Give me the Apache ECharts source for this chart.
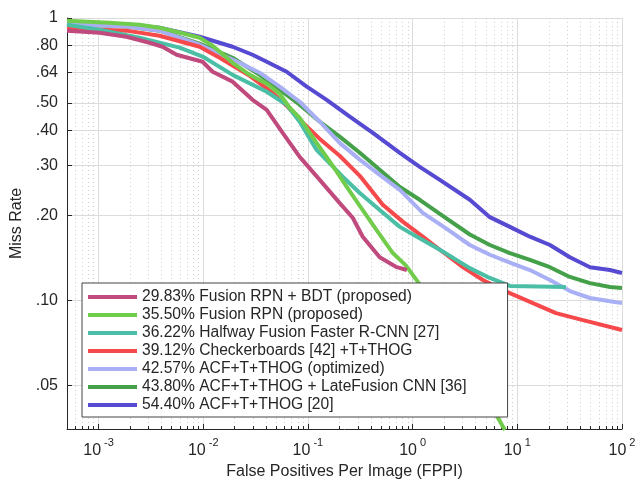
<!DOCTYPE html>
<html>
<head>
<meta charset="utf-8">
<script src="https://cdn.jsdelivr.net/npm/echarts@6/dist/echarts.min.js"></script>
<style>
  html, body { margin: 0; padding: 0; background: #fff; }
  #content { width: 636px; height: 479px; }
</style>
</head>
<body>
<div id="content"></div>
<script>
// legend names, same order as the legend
var names = [
    "29.83% Fusion RPN + BDT (proposed)",
    "35.50% Fusion RPN (proposed)",
    "36.22% Halfway Fusion Faster R-CNN [27]",
    "39.12% Checkerboards [42] +T+THOG",
    "42.57% ACF+T+THOG (optimized)",
    "43.80% ACF+T+THOG + LateFusion CNN [36]",
    "54.40% ACF+T+THOG [20]"
];
var colors = ["#c04a7d", "#72cc4c", "#4bbfa5", "#f5494b", "#a9aff5", "#45a04a", "#5649d2"];

// curves: [FPPI, miss rate]
var fusionBdt = [[5e-4,0.902],[1.02e-3,0.887],[1.85e-3,0.858],[3.07e-3,0.817],[4.09e-3,0.791],[5.57e-3,0.741],[9.87e-3,0.700],[0.0123,0.645],[0.0191,0.595],[0.0296,0.513],[0.0404,0.473],[0.0574,0.392],[0.0835,0.322],[0.1297,0.267],[0.2014,0.221],[0.268,0.196],[0.334,0.168],[0.485,0.142],[0.706,0.131],[0.88,0.128]];
var fusionRpn = [[5e-4,0.978],[1.27e-3,0.962],[2.47e-3,0.947],[3.83e-3,0.924],[5.57e-3,0.894],[9.25e-3,0.851],[0.0123,0.798],[0.0191,0.694],[0.0278,0.629],[0.0404,0.585],[0.0537,0.539],[0.067,0.481],[0.0835,0.443],[0.121,0.361],[0.173,0.299],[0.235,0.252],[0.313,0.216],[0.455,0.177],[0.647,0.147],[0.861,0.133],[1.146,0.115],[2.83,0.0667],[7.6,0.0347]];
var halfway = [[5e-4,0.947],[1.02e-3,0.909],[2.47e-3,0.851],[5.95e-3,0.785],[9.87e-3,0.730],[0.0191,0.629],[0.0404,0.548],[0.0627,0.493],[0.0835,0.429],[0.121,0.341],[0.215,0.274],[0.313,0.240],[0.485,0.209],[0.755,0.182],[1.1,0.168],[1.82,0.151],[3.52,0.130],[5.47,0.120],[8.5,0.1124],[29.1,0.1114]];
var checker = [[5e-4,0.917],[1.85e-3,0.902],[3.83e-3,0.865],[9.25e-3,0.791],[0.01435,0.723],[0.0278,0.624],[0.0461,0.543],[0.0627,0.489],[0.0835,0.436],[0.13,0.373],[0.201,0.325],[0.313,0.276],[0.519,0.218],[0.805,0.190],[1.25,0.168],[1.82,0.151],[3.02,0.131],[4.69,0.118],[7.28,0.1087],[14.1,0.0977],[23.4,0.0901],[42.4,0.0851],[100,0.0785]];
var acfOpt = [[5e-4,0.954],[1.98e-3,0.931],[3.83e-3,0.902],[9.25e-3,0.804],[0.0223,0.694],[0.0346,0.640],[0.0537,0.571],[0.0835,0.505],[0.13,0.429],[0.201,0.361],[0.313,0.315],[0.485,0.278],[0.755,0.246],[1.25,0.204],[2.12,0.179],[3.52,0.157],[5.47,0.145],[8.5,0.136],[13.2,0.128],[20.5,0.118],[31.8,0.1078],[49.4,0.1019],[76.8,0.0993],[100,0.0977]];
var acfLate = [[5e-4,0.954],[1.98e-3,0.931],[3.83e-3,0.902],[9.25e-3,0.811],[0.0191,0.723],[0.0346,0.629],[0.0537,0.557],[0.0835,0.493],[0.13,0.429],[0.201,0.380],[0.313,0.333],[0.485,0.290],[0.755,0.252],[1.17,0.227],[1.94,0.199],[3.52,0.171],[5.47,0.157],[8.5,0.147],[13.2,0.139],[20.5,0.131],[31.8,0.121],[49.4,0.115],[76.8,0.1114],[100,0.1106]];
var acf = [[5e-4,0.962],[1.98e-3,0.947],[3.83e-3,0.924],[9.25e-3,0.858],[0.0191,0.791],[0.0296,0.741],[0.0404,0.70],[0.0627,0.645],[0.0975,0.571],[0.151,0.513],[0.251,0.447],[0.417,0.392],[0.755,0.333],[1.17,0.297],[1.82,0.267],[3.52,0.227],[5.47,0.197],[8.5,0.182],[13.2,0.168],[20.5,0.157],[31.8,0.142],[49.5,0.131],[76.8,0.128],[100,0.125]];

var curves = [fusionBdt, fusionRpn, halfway, checker, acfOpt, acfLate, acf];

// axis ticks
var xMajor = [1e-3, 1e-2, 1e-1, 1, 10, 100];
var xMinor = [6e-4, 7e-4, 8e-4, 9e-4];
[1e-3, 1e-2, 1e-1, 1, 10].forEach(function(d) {
    for (var k = 2; k <= 9; k++) xMinor.push(+(d * k).toPrecision(3));
});
var yTicks = [0.05, 0.1, 0.2, 0.3, 0.4, 0.5, 0.64, 0.8, 1];
var yLabels = [".05", ".10", ".20", ".30", ".40", ".50", ".64", ".80", "1"];

var font = "Liberation Sans";
var myChart = echarts.init(document.getElementById("content"));

var series = [];
// draw the last legend entry first so the first one ends on top
for (var i = curves.length - 1; i >= 0; i--) {
    series.push({
        type: "line",
        name: names[i],
        data: curves[i],
        showSymbol: false,
        symbol: "none",
        lineStyle: { width: 4, color: colors[i] },
        itemStyle: { color: colors[i] },
        xAxisIndex: 0,
        yAxisIndex: 0
    });
}

myChart.setOption({
    animation: false,
    color: colors,
    grid: { left: 67, right: 14, top: 18, bottom: 50, outerBoundsMode: "none", containLabel: false },
    legend: {
        data: names,
        orient: "vertical",
        left: 82,
        top: 283,
        icon: "rect",
        itemWidth: 49,
        itemHeight: 4,
        itemGap: 2,
        padding: [6, 41, 4, 6],
        backgroundColor: "#fff",
        borderColor: "#444",
        borderWidth: 1,
        borderRadius: 0,
        textStyle: { fontFamily: font, fontSize: 15.6, color: "#262626", lineHeight: 16 }
    },
    xAxis: [{
        type: "log",
        min: 5e-4,
        max: 100,
        name: "False Positives Per Image (FPPI)",
        nameLocation: "middle",
        nameGap: 34,
        nameTextStyle: { fontFamily: font, fontSize: 16, color: "#262626" },
        axisLine: { lineStyle: { color: "#262626" } },
        axisTick: { inside: true, length: 5, customValues: xMajor, lineStyle: { color: "#262626" } },
        axisLabel: {
            customValues: xMajor,
            margin: 8,
            formatter: function(v) {
                return "{b|10}{s|" + Math.round(Math.log10(v)) + "}";
            },
            rich: {
                b: { fontFamily: font, fontSize: 16, color: "#262626", lineHeight: 22, verticalAlign: "bottom" },
                s: { fontFamily: font, fontSize: 11, color: "#262626", lineHeight: 22, verticalAlign: "top", padding: [0, 0, 0, 3] }
            }
        },
        splitLine: { show: true, lineStyle: { color: "#dcdcdc", width: 1 } }
    }, {
        type: "log",
        min: 5e-4,
        max: 100,
        position: "bottom",
        axisLine: { show: false },
        axisLabel: { show: false },
        axisTick: { show: true, inside: true, length: 3, customValues: xMinor, lineStyle: { color: "#262626" } },
        splitLine: { show: true, lineStyle: { color: "#cfcfcf", type: [1, 3], width: 1 } }
    }],
    yAxis: {
        type: "log",
        min: 0.035,
        max: 1,
        name: "Miss Rate",
        nameLocation: "middle",
        nameGap: 42,
        nameTextStyle: { fontFamily: font, fontSize: 16, color: "#262626" },
        axisLine: { show: true, lineStyle: { color: "#262626" } },
        axisTick: { inside: true, length: 5, customValues: yTicks, lineStyle: { color: "#262626" } },
        axisLabel: {
            customValues: yTicks,
            margin: 9,
            fontFamily: font,
            fontSize: 16,
            color: "#262626",
            formatter: function(v) {
                return yLabels[yTicks.indexOf(+v.toPrecision(3))];
            }
        },
        splitLine: { show: true, lineStyle: { color: "#dcdcdc", width: 1 } }
    },
    series: series
});
</script>
</body>
</html>
